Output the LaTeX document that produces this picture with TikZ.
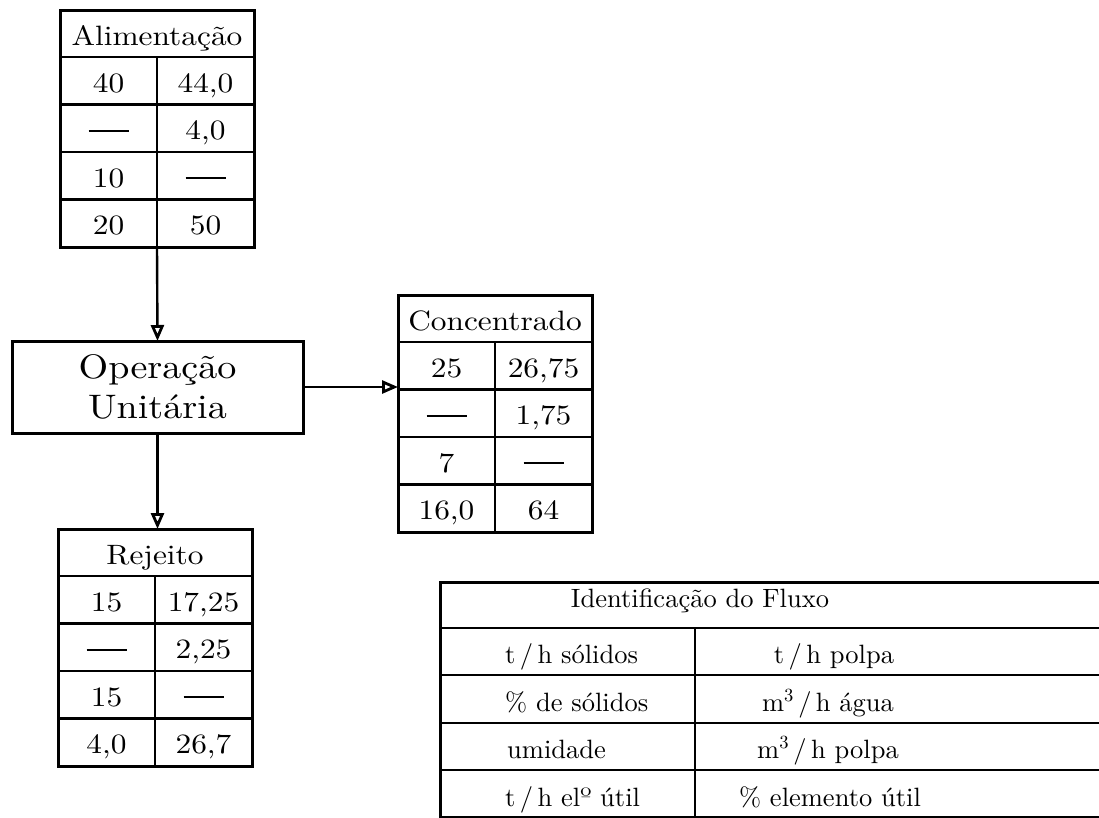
\documentclass[tikz,border=0pt]{standalone}
\usepackage{fontspec}
\setmainfont{lmroman10-regular}[Extension=.otf, FakeStretch=1.12]
\newfontfamily\legendfont{lmroman10-regular}[Extension=.otf]
\usetikzlibrary{arrows.meta}

% an empty entry, printed as a long dash
\newcommand\nodata{\rule[8pt]{40pt}{2pt}}
% "per" slash with tight spacing
\newcommand\per{\,/\,}

\tikzset{
  tabframe/.style={draw, line width=3pt, minimum width=194pt, minimum height=237pt,
    inner sep=0pt, outer sep=0pt, anchor=north west},
  gridline/.style={line width=2.4pt},
  tabtext/.style={anchor=base, inner sep=0pt, font=\fontsize{28}{30}\selectfont},
  opbox/.style={draw, line width=3pt, minimum width=291pt, minimum height=92pt,
    inner sep=0pt, outer sep=0pt, align=center, font=\fontsize{34}{40}\selectfont},
  flow/.style={line width=2.4pt, -{Triangle[open, length=16pt, width=13pt, line width=2.8pt]}},
  legtext/.style={inner sep=0pt, font=\legendfont\fontsize{26.5}{28}\selectfont},
}

% #1 name, #2 top-left corner, #3 title, #4 rows as left/right pairs
\newcommand\flowtable[4]{%
  \begin{scope}[shift={(#2)}]
    \node[tabframe] (#1) at (0,0) {};
    \foreach \k in {0,1,2,3} \draw[gridline] (0,{47+47.5*\k}) -- (194,{47+47.5*\k});
    \draw[gridline] (97,47) -- (97,237);
    \node[tabtext] (#1-head) at (97,35) {#3};
    \foreach \lft/\rgt [count=\i] in {#4} {
      \node[tabtext] (#1-\i-a) at (48.5,{47+47.5*(\i-1)+35}) {\lft};
      \node[tabtext] (#1-\i-b) at (145.5,{47+47.5*(\i-1)+35}) {\rgt};
    }
  \end{scope}}

\begin{document}
\begin{tikzpicture}[x=1pt, y=-1pt]
  \useasboundingbox (0,0) rectangle (1099,817);

  % stream tables
  \flowtable{alim}{60,10}{Alimentação}{40/{44,0}, {\nodata}/{4,0}, 10/{\nodata}, 20/50}
  \flowtable{conc}{398,295}{Concentrado}{25/{26,75}, {\nodata}/{1,75}, 7/{\nodata}, {16,0}/64}
  \flowtable{rej}{58,529}{Rejeito}{15/{17,25}, {\nodata}/{2,25}, 15/{\nodata}, {4,0}/{26,7}}

  % unit operation
  \node[opbox] (op) at (157.5,387) {Operação\\Unitária};

  % flows
  \draw[flow] (alim.south) -- (op.north);
  \draw[flow] (op.east) -- (op.east -| conc.west);
  \draw[flow] (op.south) -- (op.south |- rej.north);

  % legend
  \node[draw, line width=3pt, minimum width=700pt, minimum height=235pt,
        inner sep=0pt, outer sep=0pt, anchor=north west] (legend) at (440,582) {};
  \foreach \yy in {628,675,723,770} \draw[gridline] (440,\yy) -- (1140,\yy);
  \draw[gridline] (695,628) -- (695,817);
  \node[legtext, anchor=base] (leg-head) at (700,607) {Identificação do Fluxo};
  \node[legtext, anchor=base west] (leg-1a) at (505,663) {t\per h sólidos};
  \node[legtext, anchor=base west] (leg-2a) at (505,711) {\% de sólidos};
  \node[legtext, anchor=base west] (leg-3a) at (507,758) {umidade};
  \node[legtext, anchor=base west] (leg-4a) at (505,806) {t\per h elº útil};
  \node[legtext, anchor=base] (leg-1b) at (834,663) {t\per h polpa};
  \node[legtext, anchor=base] (leg-2b) at (828,711) {m\textsuperscript{3}\per h água};
  \node[legtext, anchor=base] (leg-3b) at (828,758) {m\textsuperscript{3}\per h polpa};
  \node[legtext, anchor=base] (leg-4b) at (830,806) {\% elemento útil};
\end{tikzpicture}
\end{document}
